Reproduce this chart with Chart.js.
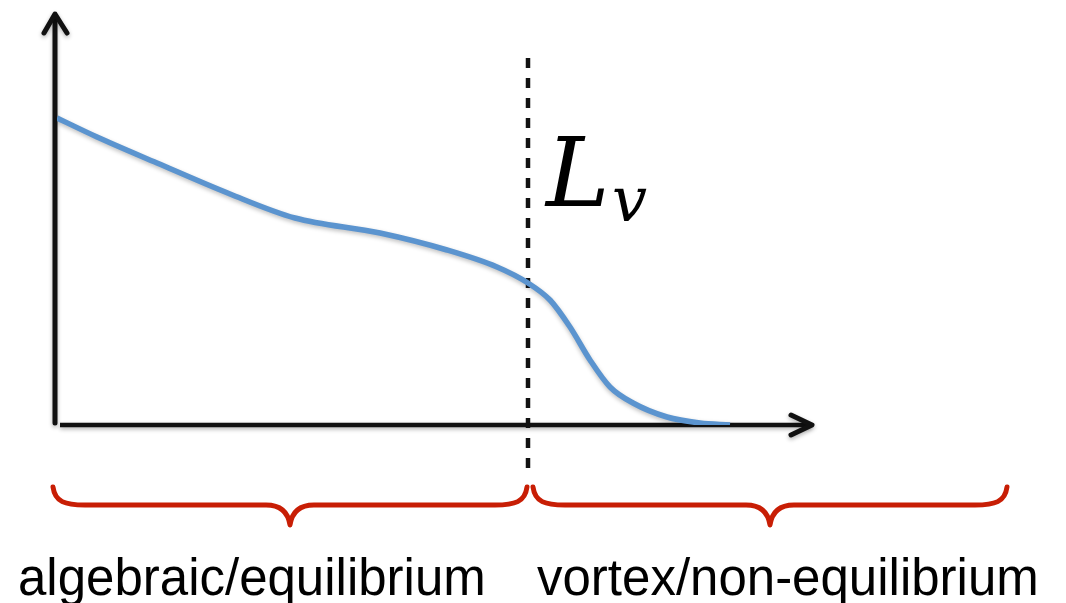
<!DOCTYPE html>
<html>
<head>
<meta charset="utf-8">
<title>Lv crossover</title>
<script src="https://cdn.jsdelivr.net/npm/chart.js@4.4.0/dist/chart.umd.min.js"></script>
<style>
  html, body { margin: 0; padding: 0; background: #fff; }
  canvas { display: block; }
</style>
</head>
<body>
<canvas id="chart" width="1066" height="603"></canvas>
<script>
// curve samples (position along the axis, height above it)
const positions = [0, 40, 100, 173, 238, 323, 390, 440, 471, 493, 513, 533, 553, 576, 610, 643, 673];
const heights   = [307, 288, 262, 231, 207, 192, 175, 158, 142, 125, 98, 65, 38, 22, 8, 2, 0];

// crossover marker and the two regimes under the axis
const lvPosition = 471;
const regimeLabels = ["algebraic/equilibrium", "vortex/non-equilibrium"];
const regimeSpans = [[-4, 470], [476, 950]];
const regimeTextStart = [-39, 480];

const axisColor = "#111";
const curveColor = "#5b94cf";
const braceColor = "#c81e05";

const schematic = {
  id: "schematic",
  beforeDatasetsDraw(chart) {
    const { ctx, scales: { x, y } } = chart;
    const x0 = x.getPixelForValue(0);
    const y0 = y.getPixelForValue(0);
    const xEnd = x.getPixelForValue(x.max);
    const yEnd = y.getPixelForValue(y.max);

    ctx.save();
    ctx.shadowColor = "rgba(0,0,0,0.3)";
    ctx.shadowBlur = 4;
    ctx.shadowOffsetY = 2;
    ctx.strokeStyle = axisColor;
    ctx.lineCap = "round";
    ctx.lineJoin = "round";

    // y axis + arrow
    ctx.lineWidth = 5;
    ctx.beginPath();
    ctx.moveTo(x0 - 2, y0 - 2);
    ctx.lineTo(x0 - 2, yEnd + 2);
    ctx.stroke();
    ctx.beginPath();
    ctx.moveTo(x0 - 13, yEnd + 19);
    ctx.lineTo(x0 - 2, yEnd);
    ctx.lineTo(x0 + 10, yEnd + 19);
    ctx.stroke();

    // x axis + arrow
    ctx.lineWidth = 4.5;
    ctx.lineCap = "butt";
    ctx.beginPath();
    ctx.moveTo(x0 + 3, y0);
    ctx.lineTo(xEnd - 2, y0);
    ctx.stroke();
    ctx.lineCap = "round";
    ctx.lineWidth = 5;
    ctx.beginPath();
    ctx.moveTo(xEnd - 21, y0 - 10);
    ctx.lineTo(xEnd, y0);
    ctx.lineTo(xEnd - 21, y0 + 10);
    ctx.stroke();
    ctx.restore();

    // dashed crossover line
    const lx = x.getPixelForValue(lvPosition);
    ctx.save();
    ctx.strokeStyle = axisColor;
    ctx.lineWidth = 4.5;
    ctx.setLineDash([10, 10]);
    ctx.beginPath();
    ctx.moveTo(lx, y.getPixelForValue(367));
    ctx.lineTo(lx, y.getPixelForValue(-43));
    ctx.stroke();
    ctx.restore();

    // soft shadow under the curve
    ctx.save();
    ctx.shadowColor = "rgba(0,0,0,0.25)";
    ctx.shadowBlur = 4;
    ctx.shadowOffsetY = 2;
  },
  afterDatasetsDraw(chart) {
    const { ctx, scales: { x, y } } = chart;
    ctx.restore();

    // L_v label
    ctx.save();
    ctx.fillStyle = "#000";
    ctx.textBaseline = "alphabetic";
    ctx.font = "italic 96px 'DejaVu Serif', 'Liberation Serif', serif";
    ctx.fillText("L", 546, 206);
    ctx.font = "italic 62px 'DejaVu Serif', 'Liberation Serif', serif";
    ctx.fillText("v", 612, 221);
    ctx.restore();

    // braces
    const yTop = 487, yMid = 505, yTip = 525;
    ctx.save();
    ctx.strokeStyle = braceColor;
    ctx.lineWidth = 5;
    ctx.lineCap = "round";
    ctx.lineJoin = "round";
    regimeSpans.forEach(([a, b]) => {
      const xa = x.getPixelForValue(a);
      const xb = x.getPixelForValue(b);
      const xm = (xa + xb) / 2;
      ctx.beginPath();
      ctx.moveTo(xa, yTop);
      ctx.bezierCurveTo(xa + 2, yMid - 3, xa + 12, yMid, xa + 32, yMid);
      ctx.lineTo(xm - 24, yMid);
      ctx.quadraticCurveTo(xm - 3, yMid, xm, yTip);
      ctx.quadraticCurveTo(xm + 3, yMid, xm + 24, yMid);
      ctx.lineTo(xb - 32, yMid);
      ctx.bezierCurveTo(xb - 12, yMid, xb - 2, yMid - 3, xb, yTop);
      ctx.stroke();
    });
    ctx.restore();

    // regime labels
    ctx.save();
    ctx.fillStyle = "#000";
    ctx.font = "51px 'Liberation Sans', Arial, sans-serif";
    ctx.textAlign = "left";
    ctx.textBaseline = "alphabetic";
    regimeLabels.forEach((t, i) => {
      ctx.fillText(t, x.getPixelForValue(regimeTextStart[i]), 595);
    });
    ctx.restore();
  }
};

new Chart(document.getElementById("chart"), {
  type: "line",
  data: {
    datasets: [{
      data: positions.map((p, i) => ({ x: p, y: heights[i] })),
      borderColor: curveColor,
      borderWidth: 5.5,
      pointRadius: 0,
      cubicInterpolationMode: "monotone",
      fill: false
    }]
  },
  options: {
    responsive: false,
    animation: false,
    layout: { padding: { left: 57, right: 254, top: 14, bottom: 178 } },
    scales: {
      x: { type: "linear", min: 0, max: 755, display: false },
      y: { min: 0, max: 411, display: false }
    },
    plugins: {
      legend: { display: false },
      tooltip: { enabled: false }
    }
  },
  plugins: [schematic]
});
</script>
</body>
</html>
